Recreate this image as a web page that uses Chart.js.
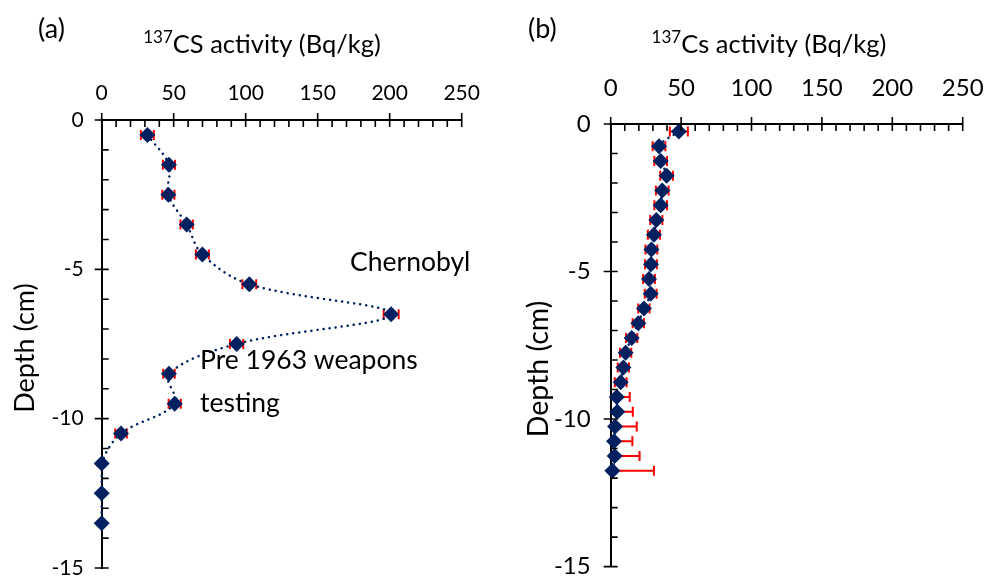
<!DOCTYPE html>
<html lang="en">
<head>
<meta charset="UTF-8">
<title>137Cs activity profiles</title>
<script src="https://cdn.jsdelivr.net/npm/chart.js"></script>
<style>
  body { margin: 0; background: #fff; }
  .wrap { position: relative; width: 987px; height: 581px; }
  canvas { position: absolute; top: 0; }
  #chartA { left: 0; }
  #chartB { left: 494px; }
</style>
</head>
<body>
<div class="wrap">
  <canvas id="chartA" width="494" height="581"></canvas>
  <canvas id="chartB" width="493" height="581"></canvas>
</div>

<script>
// core (a): 137Cs activity (Bq/kg) against depth (cm)
const depthA = [-0.5, -1.5, -2.5, -3.5, -4.5, -5.5, -6.5, -7.5, -8.5, -9.5, -10.5, -11.5, -12.5, -13.5];
const activityA = [31.7, 46.7, 46.3, 59, 69.9, 102.5, 201, 93.7, 46.7, 50.7, 13.4, 0, 0, 0];
const errorA = [4.5, 4.2, 4.2, 4.3, 4.5, 4.8, 5.2, 4.6, 4.0, 4.2, 4.0, 0, 0, 0];

// core (b)
const depthB = [-0.25, -0.75, -1.25, -1.75, -2.25, -2.75, -3.25, -3.75, -4.25, -4.75, -5.25, -5.75,
                -6.25, -6.75, -7.25, -7.75, -8.25, -8.75, -9.25, -9.75, -10.25, -10.75, -11.25, -11.75];
const activityB = [48.4, 34.3, 35.5, 39.7, 36.6, 35.5, 32.4, 30.7, 28.9, 28.6, 27.2, 28.4,
                   23.6, 19.6, 14.9, 10.6, 9.0, 7.1, 4.3, 4.7, 3.1, 2.4, 2.8, 1.2];
const errorB = [6.4, 4.5, 4.5, 4.5, 4.5, 4.5, 4.3, 4.3, 4.2, 4.2, 4.2, 4.2,
                4.0, 4.0, 4.0, 4.0, 4.0, 4.2, 9.2, 11, 15.4, 13, 17.7, 29.5];

// axis ticks
const xTicks = [0, 50, 100, 150, 200, 250];
const yTicks = [-15, -10, -5, 0];
const xMinorStep = 10;
const yMinorStep = 1;

const NAVY = '#002060';
const FONT = 'Lato, "Open Sans", sans-serif';

// red horizontal error bars, drawn under the markers
const errorBars = {
  id: 'errorBars',
  beforeDatasetsDraw(chart, args, opts) {
    const {ctx, scales: {x, y}} = chart;
    const errs = opts.errors || [];
    const pts = chart.data.datasets[0].data;
    ctx.save();
    ctx.strokeStyle = '#ff0000';
    ctx.lineWidth = 2;
    pts.forEach((p, i) => {
      const e = errs[i];
      if (!e) return;
      const py = y.getPixelForValue(p.y);
      const lo = p.x - e, hi = p.x + e;
      const x1 = x.getPixelForValue(Math.max(lo, x.min));
      const x2 = x.getPixelForValue(hi);
      ctx.beginPath();
      ctx.moveTo(x1, py); ctx.lineTo(x2, py);
      if (lo >= x.min) { ctx.moveTo(x1, py - 5); ctx.lineTo(x1, py + 5); }
      ctx.moveTo(x2, py - 5); ctx.lineTo(x2, py + 5);
      ctx.stroke();
    });
    ctx.restore();
  }
};

// major ticks cross the axis, minor ticks point into the plot
const axisTicks = {
  id: 'axisTicks',
  afterDraw(chart) {
    const {ctx, chartArea: a, scales: {x, y}} = chart;
    ctx.save();
    ctx.strokeStyle = '#000';
    ctx.lineWidth = 1.6;
    ctx.beginPath();
    for (let v = x.min; v <= x.max + 1e-9; v += xMinorStep) {
      const px = x.getPixelForValue(v);
      const major = xTicks.includes(v);
      ctx.moveTo(px, major ? a.top - 7 : a.top);
      ctx.lineTo(px, a.top + 7);
    }
    for (let v = y.min; v <= y.max + 1e-9; v += yMinorStep) {
      const py = y.getPixelForValue(v);
      const major = yTicks.includes(Math.round(v));
      ctx.moveTo(major ? a.left - 7 : a.left, py);
      ctx.lineTo(a.left + 7, py);
    }
    ctx.stroke();
    ctx.restore();
  }
};

// panel letter, top title with superscript, rotated y title, notes
const panelText = {
  id: 'panelText',
  afterDraw(chart, args, o) {
    const ctx = chart.ctx;
    ctx.save();
    ctx.fillStyle = '#000';
    ctx.textBaseline = 'alphabetic';

    ctx.font = `27px ${FONT}`;
    ctx.textAlign = 'left';
    ctx.fillText(o.letter, o.letterX, o.letterY);

    // title: superscript mass number then the rest
    ctx.font = `17px ${FONT}`;
    const w1 = ctx.measureText(o.sup).width;
    ctx.font = `25.5px ${FONT}`;
    const w2 = ctx.measureText(o.title).width;
    const x0 = o.titleX - (w1 + w2) / 2;
    ctx.font = `17px ${FONT}`;
    ctx.fillText(o.sup, x0, o.titleY - 10);
    ctx.font = `25.5px ${FONT}`;
    ctx.fillText(o.title, x0 + w1, o.titleY);

    // y axis title
    ctx.save();
    ctx.translate(o.yTitleX, o.yTitleY);
    ctx.rotate(-Math.PI / 2);
    ctx.textAlign = 'center';
    ctx.textBaseline = 'middle';
    ctx.font = `${o.yTitleSize}px ${FONT}`;
    ctx.fillText('Depth (cm)', 0, 0);
    ctx.restore();

    ctx.font = `26.5px ${FONT}`;
    ctx.textAlign = 'left';
    (o.notes || []).forEach(n => ctx.fillText(n.text, n.x, n.y));
    ctx.restore();
  }
};

function makeChart(id, depth, activity, errors, geo, text) {
  const canvas = document.getElementById(id);
  return new Chart(canvas, {
    type: 'scatter',
    data: {
      datasets: [{
        data: activity.map((v, i) => ({x: v, y: depth[i]})),
        showLine: true,
        borderColor: NAVY,
        borderWidth: 2.5,
        borderDash: [0.1, 6],
        borderCapStyle: 'round',
        tension: 0.35,
        pointStyle: 'rectRot',
        pointRadius: 8,
        pointBackgroundColor: NAVY,
        pointBorderColor: NAVY,
        pointBorderWidth: 0,
        clip: false
      }]
    },
    options: {
      responsive: false,
      animation: false,
      devicePixelRatio: 1,
      layout: {
        padding: {left: 0, top: 0, right: canvas.width - geo.right, bottom: canvas.height - geo.bottom}
      },
      scales: {
        x: {
          type: 'linear',
          position: 'top',
          min: 0, max: 250,
          afterBuildTicks: s => { s.ticks = xTicks.map(v => ({value: v})); },
          afterFit: s => { s.height = geo.top; },
          // tick marks themselves come from axisTicks; tickLength only offsets the labels
          grid: {display: false, drawTicks: true, tickLength: geo.xGap},
          border: {display: true, color: '#000', width: 2},
          ticks: {color: '#000', padding: 0, font: {family: FONT, size: geo.tickSize}, maxRotation: 0}
        },
        y: {
          type: 'linear',
          min: -15, max: 0,
          afterBuildTicks: s => { s.ticks = yTicks.map(v => ({value: v})); },
          afterFit: s => { s.width = geo.left; },
          grid: {display: false, drawTicks: true, tickLength: geo.yGap},
          border: {display: true, color: '#000', width: 2},
          ticks: {color: '#000', padding: 0, font: {family: FONT, size: geo.tickSize}}
        }
      },
      plugins: {
        legend: {display: false},
        tooltip: {enabled: false},
        errorBars: {errors: errors},
        panelText: text
      }
    },
    plugins: [errorBars, axisTicks, panelText]
  });
}

makeChart('chartA', depthA, activityA, errorA,
  {left: 101.7, top: 120, right: 461.7, bottom: 568, xGap: 14, yGap: 18, tickSize: 21},
  {letter: '(a)', letterX: 38, letterY: 38, sup: '137', title: 'CS activity (Bq/kg)', titleX: 262, titleY: 53,
   yTitleX: 25, yTitleY: 348, yTitleSize: 27,
   notes: [{text: 'Chernobyl', x: 350, y: 271}, {text: 'Pre 1963 weapons', x: 200, y: 369}, {text: 'testing', x: 200, y: 412}]});

makeChart('chartB', depthB, activityB, errorB,
  {left: 116.7, top: 124, right: 468.7, bottom: 568, xGap: 21, yGap: 20, tickSize: 24},
  {letter: '(b)', letterX: 34, letterY: 38, sup: '137', title: 'Cs activity (Bq/kg)', titleX: 275, titleY: 53,
   yTitleX: 45, yTitleY: 369, yTitleSize: 28.5, notes: []});
</script>
</body>
</html>
